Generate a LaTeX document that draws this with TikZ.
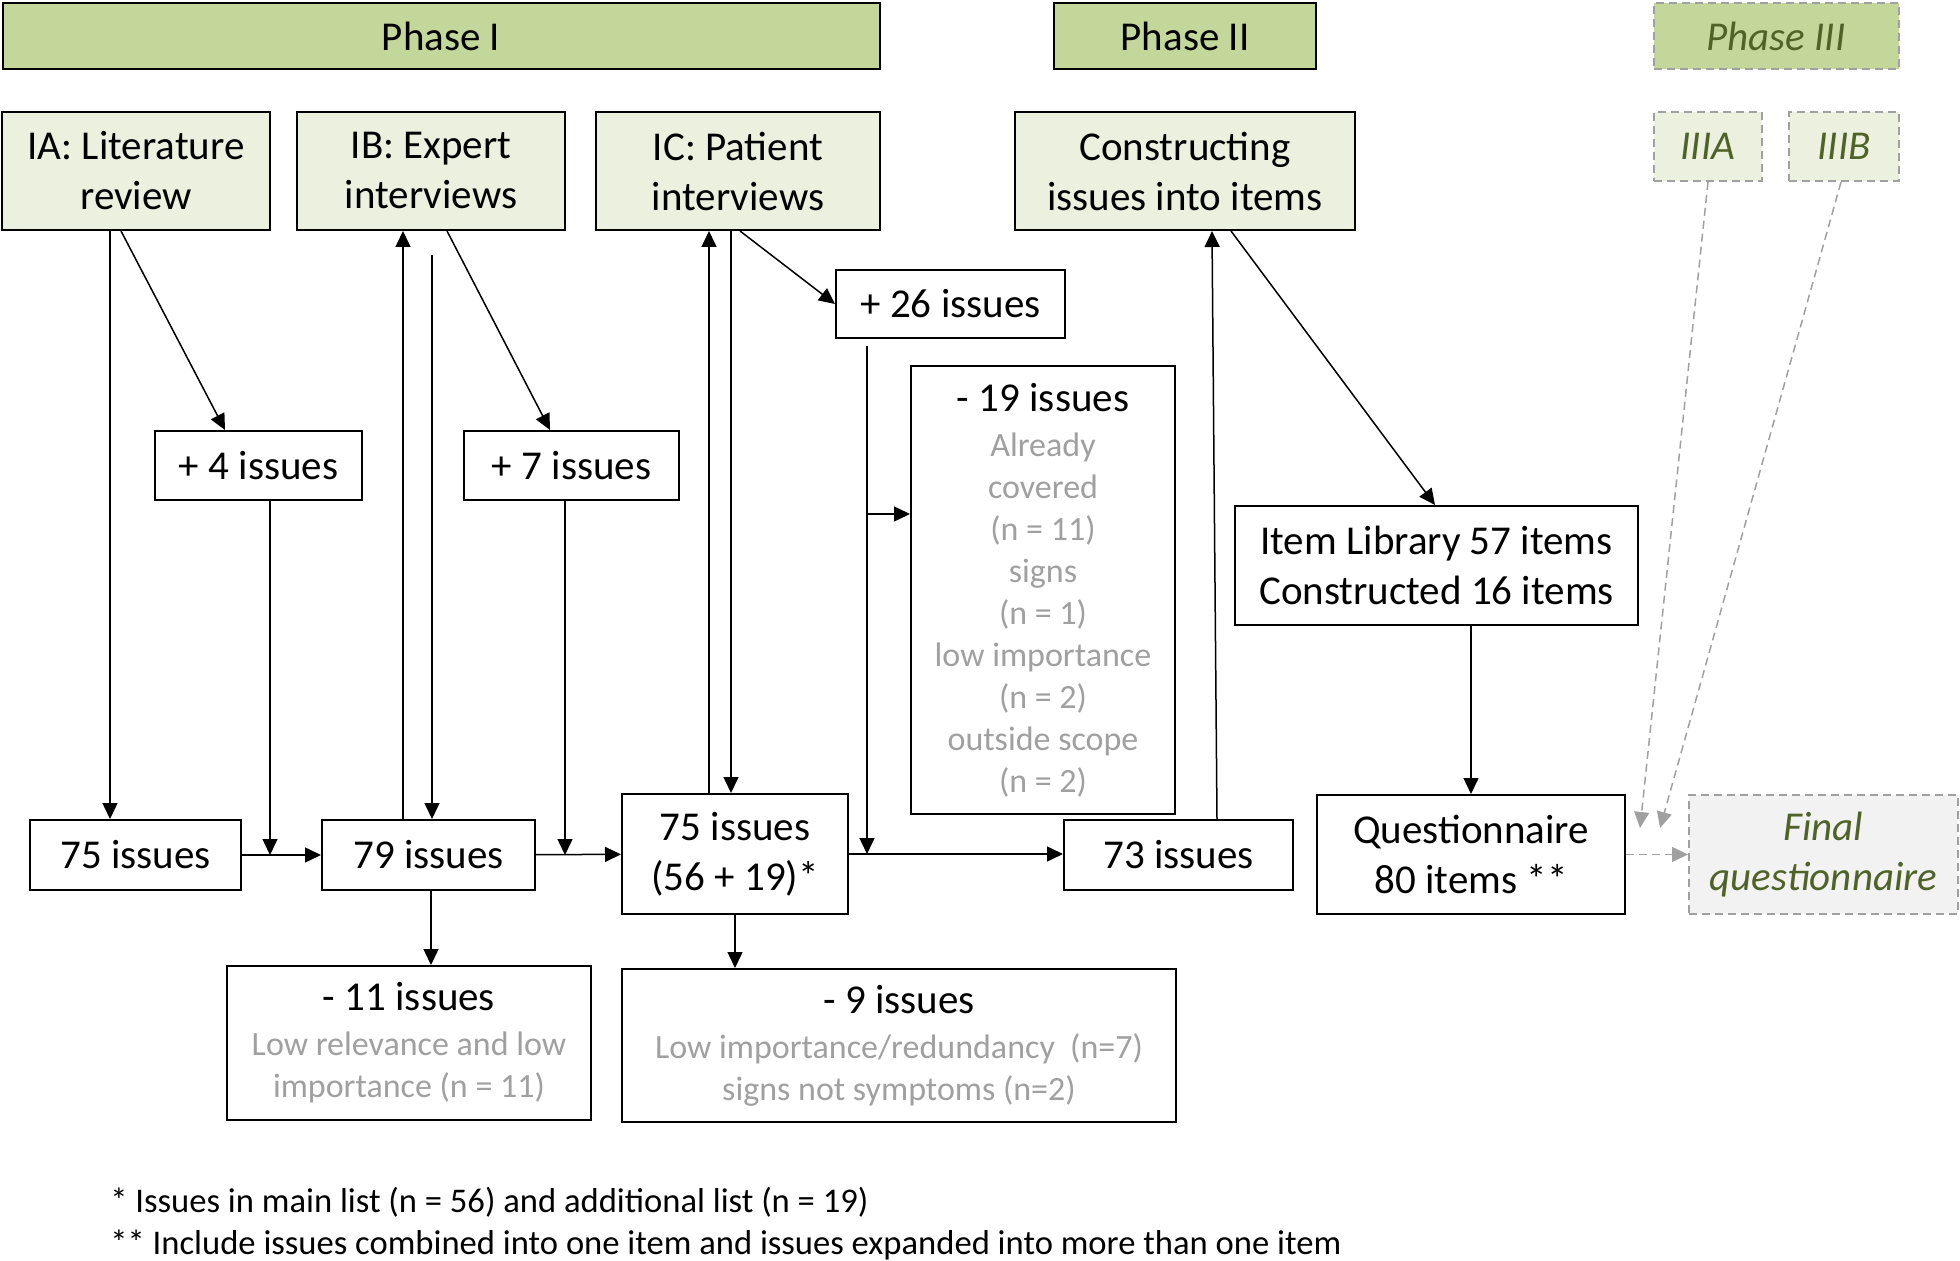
\documentclass[tikz,border=0pt]{standalone}
\usepackage{fontspec}
\setmainfont{Carlito}
\usetikzlibrary{arrows.meta}

\definecolor{phasegreen}{HTML}{C4D79B}
\definecolor{stagegreen}{HTML}{EBF1DE}
\definecolor{olivetext}{HTML}{4F6228}
\definecolor{notegray}{HTML}{A0A0A0}
\definecolor{finalgray}{HTML}{F2F2F2}

\newcommand{\bigtxt}{\fontsize{20.5}{25}\selectfont}
\newcommand{\smalltxt}{\fontsize{17}{21}\selectfont}

\tikzset{
  box/.style={draw, line width=1pt, align=center, inner sep=2pt, font=\bigtxt},
  phasebox/.style={box, fill=phasegreen, minimum height=33pt},
  stagebox/.style={box, fill=stagegreen, minimum height=59pt},
  countbox/.style={box, fill=white},
  notebox/.style={countbox, font=\smalltxt, text=notegray},
  laterbox/.style={box, draw=notegray, dash pattern=on 4pt off 2.5pt, text=olivetext, font=\bigtxt\itshape},
  arr/.style={-{Triangle[length=8pt,width=7.5pt]}, line width=0.75pt},
  laterarr/.style={arr, draw=notegray, dash pattern=on 4pt off 2.5pt}
}

\begin{document}
\begin{tikzpicture}[x=0.5pt,y=-0.5pt]
  \useasboundingbox (0,0) rectangle (1960,1261);

  % phases
  \node[phasebox, minimum width=438.5pt] (ph1) at (441,36) {Phase I};
  \node[phasebox, minimum width=131pt] (ph2) at (1185,36) {Phase II};
  \node[laterbox, fill=phasegreen, minimum width=122.5pt, minimum height=33pt] (ph3) at (1776,36) {Phase III};

  % stages
  \node[stagebox, minimum width=134pt] (ia) at (136,171) {IA: Literature\\review};
  \node[stagebox, minimum width=134pt] (ib) at (431,171) {IB: Expert\\interviews};
  \node[stagebox, minimum width=142pt] (ic) at (738,171) {IC: Patient\\interviews};
  \node[stagebox, minimum width=170pt] (constr) at (1185,171) {Constructing\\issues into items};
  \node[laterbox, fill=stagegreen, minimum width=54pt, minimum height=34.5pt] (iiia) at (1708,146.5) {IIIA};
  \node[laterbox, fill=stagegreen, minimum width=55pt, minimum height=34.5pt] (iiib) at (1844,146.5) {IIIB};

  % added and removed issues
  \node[countbox, minimum width=114.5pt, minimum height=34pt] (add26) at (950.5,304) {+ 26 issues};
  \node[countbox, minimum width=103.5pt, minimum height=34.5pt] (add4) at (258.5,465.5) {+ 4 issues};
  \node[countbox, minimum width=107.5pt, minimum height=34.5pt] (add7) at (571.5,465.5) {+ 7 issues};
  \node[notebox, minimum width=132pt, minimum height=224pt] (del19) at (1043,590)
    {{\bigtxt\color{black}- 19 issues}\\[1.5pt]Already\\covered\\(n = 11)\\signs\\(n = 1)\\low importance\\(n = 2)\\outside scope\\(n = 2)};
  \node[countbox, minimum width=201.5pt, minimum height=59.5pt] (lib) at (1436.5,565.5) {Item Library 57 items\\Constructed 16 items};

  % running totals
  \node[countbox, minimum width=105.5pt, minimum height=35pt] (n75) at (135.5,855) {75 issues};
  \node[countbox, minimum width=106.5pt, minimum height=35pt] (n79) at (428.5,855) {79 issues};
  \node[countbox, minimum width=113pt, minimum height=60pt] (n75b) at (735,854) {75 issues\\(56 + 19)*};
  \node[countbox, minimum width=114.5pt, minimum height=35pt] (n73) at (1178.5,855) {73 issues};
  \node[countbox, minimum width=154pt, minimum height=59.5pt] (quest) at (1471,854.5) {Questionnaire\\80 items **};
  \node[laterbox, fill=finalgray, minimum width=134.5pt, minimum height=59.5pt] (final) at (1823.5,854.5) {Final\\questionnaire};

  \node[notebox, minimum width=182pt, minimum height=77pt] (del11) at (409,1043)
    {{\bigtxt\color{black}- 11 issues}\\[1.5pt]Low relevance and low\\importance (n = 11)};
  \node[notebox, minimum width=277pt, minimum height=76.5pt] (del9) at (899,1045.5)
    {{\bigtxt\color{black}- 9 issues}\\[1.5pt]Low importance/redundancy~~(n=7)\\signs not symptoms (n=2)};

  % footnotes
  \node[anchor=west, inner sep=0pt, font=\fontsize{17.3}{21}\selectfont] (fn1) at (110,1202) {* Issues in main list (n = 56) and additional list (n = 19)};
  \node[anchor=west, inner sep=0pt, font=\fontsize{17.3}{21}\selectfont] (fn2) at (110,1245) {** Include issues combined into one item and issues expanded into more than one item};

  % connectors
  \coordinate (ibgap) at (432,255);
  \coordinate (gap26) at (867,346);
  \coordinate (split) at (867,514);
  \coordinate (inA) at (1640,828);
  \coordinate (inB) at (1660,828);

  \draw[arr] (ia.south -| 110,0) -- (n75.north -| 110,0);
  \draw[arr] (ia.south -| 121,0) -- (add4.north -| 225,0);
  \draw[arr] (add4.south -| 270,0) -- (n75.east -| 270,0);
  \draw[arr] (n75) -- (n79);
  \draw[arr] (n79.north -| 403,0) -- (ib.south -| 403,0);
  \draw[arr] (ibgap) -- (n79.north -| ibgap);
  \draw[arr] (ib.south -| 447,0) -- (add7.north -| 550,0);
  \draw[arr] (add7.south -| 565,0) -- (n79.east -| 565,0);
  \draw[arr] (n79) -- (n75b);
  \draw[arr] (n79.south -| 431,0) -- (del11.north -| 431,0);
  \draw[arr] (n75b.north -| 709,0) -- (ic.south -| 709,0);
  \draw[arr] (ic.south -| 731,0) -- (n75b.north -| 731,0);
  \draw[arr] (ic.south -| 740,0) -- (add26.west);
  \draw[arr] (gap26) -- (n75b.east -| gap26);
  \draw[arr] (split) -- (split -| del19.west);
  \draw[arr] (n75b.east) -- (n75b.east -| n73.west);
  \draw[arr] (n75b.south) -- (n75b.south |- del9.north);
  \draw[arr] (n73.north -| 1217,0) -- (constr.south -| 1212,0);
  \draw[arr] (constr.south -| 1231,0) -- (lib.north -| 1435,0);
  \draw[arr] (lib.south -| quest.north) -- (quest.north);
  \draw[laterarr] (iiia.south) -- (inA);
  \draw[laterarr] (iiib.south -| 1841,0) -- (inB);
  \draw[laterarr] (quest.east) -- (final.west);
\end{tikzpicture}
\end{document}
